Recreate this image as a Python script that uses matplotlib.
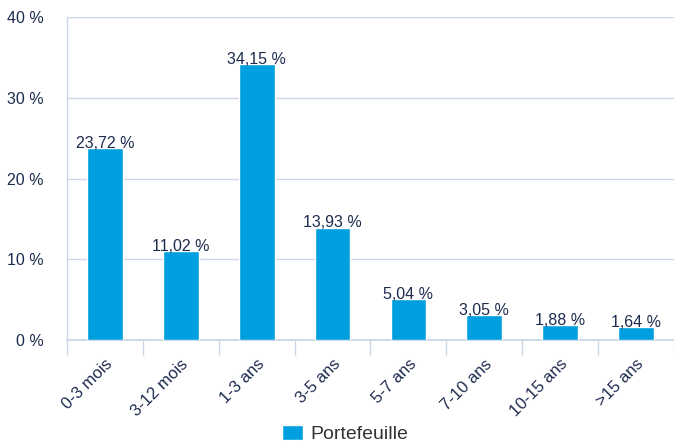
import matplotlib.pyplot as plt
import numpy as np

categories = ["0-3 mois", "3-12 mois", "1-3 ans", "3-5 ans", "5-7 ans", "7-10 ans", "10-15 ans", ">15 ans"]
values = [23.72, 11.02, 34.15, 13.93, 5.04, 3.05, 1.88, 1.64]
series_name = "Portefeuille"
yticks = [0, 10, 20, 30, 40]

bar_color = "#009fe0"
text_color = "#1d2b4f"
grid_color = "#cbd6e6"

plt.rcParams['font.family'] = ['Liberation Sans', 'DejaVu Sans']

fig = plt.figure(figsize=(6.74, 4.43), dpi=100)
ax = fig.add_axes([0.0994, 0.2325, 0.9006, 0.729])

x = np.arange(len(categories))
bars = ax.bar(x, values, width=0.47, color=bar_color, edgecolor="white",
              linewidth=1, label=series_name, zorder=3)

for xi, v in zip(x, values):
    ax.annotate(f"{v:.2f} %".replace(".", ","), (xi, v), xytext=(0, -2),
                textcoords="offset points", ha="center", va="bottom",
                fontsize=11.5, color=text_color, zorder=4)

ax.set_xlim(-0.5, len(categories) - 0.5)
ax.set_ylim(0, 40)
ax.set_yticks(yticks)
ax.set_yticklabels([f"{t} %" for t in yticks], fontsize=11.5, color=text_color)
ax.tick_params(axis="y", length=0, pad=17)

# category boundary ticks below the axis
ax.set_xticks(np.arange(len(categories) + 1) - 0.5, minor=False)
ax.set_xticklabels([])
ax.tick_params(axis="x", which="major", length=10.5, width=1, color=grid_color, direction="out")
ax.set_xticks(x, minor=True)
ax.set_xticklabels(categories, minor=True, rotation=45, ha="right",
                   rotation_mode="anchor", fontsize=12, color=text_color)
ax.tick_params(axis="x", which="minor", length=0, pad=12)

ax.grid(axis="y", color=grid_color, linewidth=1, zorder=0)
for s in ["top", "right"]:
    ax.spines[s].set_visible(False)
ax.spines["left"].set_color(grid_color)
ax.spines["bottom"].set_color(grid_color)
ax.spines["left"].set_linewidth(1)
ax.spines["bottom"].set_linewidth(1.3)

fig.legend(loc="center", bbox_to_anchor=(0.512, 0.02), frameon=False,
           fontsize=14, handlelength=1.07, handleheight=0.85, handletextpad=0.36,
           labelcolor="#333333")

fig.savefig("out.png", dpi=100)
